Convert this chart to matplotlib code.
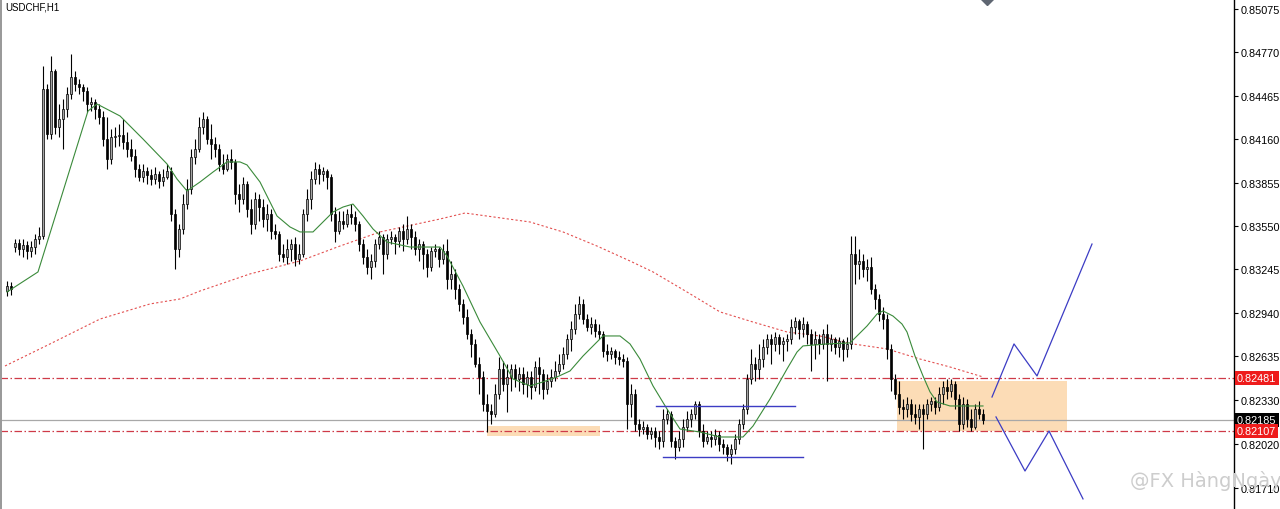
import matplotlib
matplotlib.use("Agg")
import matplotlib.pyplot as plt
import matplotlib.transforms as mtransforms
import numpy as np

# ---------------- data (prices in points, 1 point = 0.00001) ----------------
first_opens = [83093, 83128, 83402]
closes = [83128, 83107, 83430, 83388, 83416, 83374, 83402, 83459, 83480, 84513,
          84196, 84639, 84246, 84302, 84372, 84477, 84597, 84548, 84527, 84499,
          84407, 84421, 84372, 84316, 84161, 84021, 84175, 84182, 84189, 84140,
          84091, 84042, 83950, 83894, 83936, 83908, 83880, 83915, 83866, 83894,
          83936, 83634, 83388, 83529, 83704, 83810, 84035, 84091, 84246, 84302,
          84161, 84126, 84091, 83986, 83950, 84021, 84000, 83775, 83740, 83845,
          83669, 83564, 83740, 83683, 83599, 83634, 83515, 83494, 83353, 83332,
          83388, 83423, 83318, 83353, 83634, 83740, 83880, 83950, 83915, 83936,
          83894, 83634, 83515, 83585, 83564, 83634, 83613, 83564, 83423, 83332,
          83262, 83304, 83423, 83473, 83353, 83459, 83473, 83444, 83515, 83459,
          83529, 83473, 83388, 83423, 83353, 83262, 83374, 83388, 83318, 83374,
          83177, 83213, 83107, 83002, 82910, 82791, 82721, 82580, 82489, 82299,
          82250, 82229, 82369, 82545, 82440, 82489, 82545, 82475, 82510, 82440,
          82489, 82419, 82559, 82510, 82404, 82461, 82489, 82531, 82580, 82650,
          82756, 82826, 82931, 83002, 82896, 82840, 82861, 82812, 82791, 82671,
          82650, 82671, 82629, 82615, 82601, 82299, 82369, 82159, 82123, 82137,
          82088, 82109, 82067, 82039, 82194, 82229, 82039, 81997, 82053, 82137,
          82194, 82229, 82299, 82109, 82039, 82067, 82053, 82081, 82018, 81997,
          81948, 81983, 82053, 82159, 82264, 82475, 82580, 82545, 82615, 82700,
          82756, 82721, 82770, 82721, 82742, 82756, 82840, 82882, 82826, 82861,
          82791, 82721, 82756, 82721, 82791, 82721, 82756, 82700, 82742, 82686,
          82721, 83353, 83283, 83304, 83248, 83262, 83107, 83037, 82931, 82896,
          82686, 82475, 82369, 82278, 82264, 82299, 82229, 82208, 82264, 82229,
          82299, 82320, 82278, 82369, 82419, 82390, 82440, 82334, 82159, 82299,
          82194, 82137, 82264, 82229, 82185]
highs = [83163, 83156, 83459, 83459, 83459, 83444, 83444, 83494, 83543, 84674,
         84548, 84744, 84653, 84407, 84442, 84527, 84759, 84639, 84583, 84548,
         84527, 84456, 84442, 84407, 84358, 84316, 84231, 84246, 84267, 84302,
         84210, 84161, 84091, 83986, 83986, 83964, 83950, 83964, 83936, 83950,
         83986, 83964, 83669, 83564, 83775, 83880, 84091, 84161, 84316, 84351,
         84323, 84267, 84175, 84126, 84056, 84056, 84091, 84021, 83845, 83894,
         83866, 83740, 83789, 83775, 83740, 83704, 83669, 83564, 83515, 83423,
         83459, 83459, 83473, 83423, 83669, 83810, 83936, 84000, 83986, 83964,
         83950, 83915, 83683, 83655, 83655, 83669, 83704, 83655, 83585, 83459,
         83388, 83353, 83459, 83515, 83494, 83494, 83515, 83494, 83543, 83564,
         83620, 83564, 83515, 83459, 83444, 83388, 83402, 83423, 83402, 83423,
         83459, 83304, 83248, 83142, 83037, 82967, 82826, 82756, 82629, 82531,
         82369, 82299, 82440, 82629, 82601, 82580, 82580, 82580, 82559, 82559,
         82531, 82531, 82601, 82629, 82545, 82510, 82545, 82601, 82650, 82700,
         82791, 82882, 83002, 83058, 83037, 82931, 82910, 82896, 82861, 82812,
         82721, 82700, 82686, 82671, 82650, 82629, 82440, 82404, 82194, 82180,
         82159, 82137, 82137, 82109, 82264, 82264, 82250, 82067, 82109, 82194,
         82250, 82264, 82320, 82320, 82159, 82109, 82109, 82123, 82109, 82053,
         82018, 82018, 82088, 82194, 82299, 82510, 82686, 82629, 82721, 82756,
         82791, 82791, 82805, 82791, 82770, 82791, 82896, 82910, 82896, 82910,
         82882, 82826, 82812, 82791, 82826, 82861, 82791, 82770, 82770, 82756,
         82770, 83480, 83480, 83388, 83353, 83318, 83332, 83142, 83072, 82981,
         82931, 82721, 82510, 82461, 82334, 82348, 82334, 82299, 82299, 82299,
         82334, 82348, 82348, 82419, 82461, 82475, 82475, 82461, 82369, 82348,
         82334, 82264, 82299, 82320, 82264]
lows = [83058, 83065, 83367, 83346, 83332, 83318, 83332, 83353, 83423, 83459,
        84161, 84161, 84196, 84175, 84091, 84316, 84442, 84499, 84477, 84428,
        84351, 84358, 84302, 84267, 84112, 83950, 83986, 84105, 84112, 84091,
        84035, 84007, 83894, 83866, 83859, 83845, 83838, 83845, 83817, 83831,
        83880, 83585, 83248, 83332, 83494, 83669, 83775, 83986, 84070, 84196,
        84126, 84021, 84035, 83936, 83915, 83936, 83950, 83704, 83648, 83704,
        83613, 83494, 83529, 83585, 83543, 83515, 83459, 83459, 83304, 83297,
        83283, 83304, 83269, 83283, 83332, 83585, 83669, 83845, 83845, 83866,
        83810, 83585, 83437, 83494, 83529, 83543, 83564, 83515, 83374, 83283,
        83213, 83177, 83262, 83388, 83213, 83318, 83423, 83353, 83402, 83374,
        83423, 83388, 83346, 83304, 83248, 83191, 83234, 83332, 83262, 83283,
        83107, 83107, 83037, 82953, 82861, 82756, 82629, 82559, 82369, 82250,
        82102, 82159, 82208, 82334, 82390, 82243, 82390, 82419, 82390, 82369,
        82348, 82334, 82390, 82369, 82334, 82369, 82419, 82461, 82510, 82545,
        82615, 82671, 82791, 82896, 82861, 82812, 82791, 82770, 82756, 82629,
        82601, 82615, 82580, 82573, 82559, 82123, 82208, 82109, 82074, 82088,
        82053, 82053, 81997, 81983, 81997, 82159, 81997, 81913, 81969, 81997,
        82109, 82137, 82194, 82067, 81997, 82018, 81997, 82011, 81969, 81948,
        81899, 81877, 81948, 82018, 82123, 82229, 82440, 82461, 82475, 82559,
        82650, 82580, 82671, 82650, 82601, 82671, 82721, 82791, 82756, 82770,
        82721, 82531, 82615, 82650, 82686, 82461, 82671, 82650, 82629, 82601,
        82629, 82686, 83142, 83177, 83191, 83163, 83072, 82967, 82882, 82826,
        82615, 82390, 82334, 82229, 82194, 82208, 82180, 82159, 82123, 81983,
        82194, 82250, 82229, 82250, 82299, 82334, 82348, 82264, 82109, 82123,
        82137, 82109, 82123, 82194, 82159]

# indicator lines: (bar index, value in points)
fast_ma_idx = [0, 7.75, 20.25, 22.5, 28.25, 34, 40, 42.5, 45, 48.25, 51.5, 55,
               58.25, 60, 63.25, 67.5, 70.75, 73.25, 76.5, 79, 81.5, 84, 86.5, 89,
               91.5, 95, 100.75, 108.25, 110, 114, 118.25, 123.25, 126.5, 130.75,
               134, 137.5, 140.75, 144, 147.5, 149, 153.25, 155.75, 158.25, 161.5,
               165, 168.25, 173.25, 178.25, 184, 186.5, 190.75, 195, 197.5, 199,
               205, 210.75, 215, 217.5, 219, 221.5, 223.75, 225, 227, 229, 230.75,
               232.5, 235.75, 244]
fast_ma_val = [83086, 83227, 84358, 84407, 84323, 84161, 83986, 83880, 83796, 83859,
               83929, 84000, 84000, 83979, 83859, 83620, 83543, 83508, 83508, 83578,
               83648, 83683, 83704, 83620, 83529, 83437, 83402, 83402, 83339, 83128,
               82875, 82636, 82475, 82426, 82454, 82489, 82531, 82636, 82735, 82777,
               82777, 82721, 82615, 82426, 82264, 82123, 82102, 82067, 82067, 82144,
               82334, 82545, 82664, 82707, 82721, 82728, 82847, 82931, 82953, 82917,
               82861, 82805, 82636, 82496, 82384, 82313, 82285, 82285]
slow_ma_idx = [-0.5, 10.75, 23.25, 35.75, 43.25, 48.25, 60.75, 73.25, 83.25, 93.25,
               108.25, 114.5, 130.75, 139, 147.5, 155.75, 161.5, 170, 178.25, 186.5,
               195, 203.25, 211.5, 220, 228.25, 235.75, 244]
slow_ma_val = [82566, 82721, 82896, 83002, 83037, 83093, 83213, 83304, 83409, 83508,
               83599, 83641, 83578, 83508, 83409, 83304, 83227, 83086, 82946, 82875,
               82805, 82777, 82721, 82686, 82615, 82559, 82489]

level_upper = 0.82481
level_lower = 0.82107
last_price = 0.82185
y_ticks = [0.85075, 0.84770, 0.84465, 0.84160, 0.83855, 0.83550, 0.83245,
           0.82940, 0.82635, 0.82330, 0.82020, 0.81710]

zone_small = (120, 148.25, 0.82074, 0.82144)
zone_big = (222.5, 265, 0.82107, 0.82461)
range_top = (162.25, 197, 0.82285)
range_bottom = (164, 199, 0.81927)
zig_up_idx = [246.25, 251.75, 257.5, 271.25]
zig_up_val = [0.82348, 0.82721, 0.82496, 0.83423]
zig_dn_idx = [247.25, 254.5, 260.5, 269]
zig_dn_val = [0.82208, 0.81828, 0.82109, 0.81632]
shift_marker = (245, 0.85160)

# ---------------- conversion ----------------
P = 1e-5
c = np.array(closes) * P
h = np.array(highs) * P
l = np.array(lows) * P
o = np.array(first_opens + closes[2:-1]) * P
n = len(c)
x = np.arange(n)

AX_RIGHT_PX = 1234
fig = plt.figure(figsize=(12.8, 5.1), dpi=100)
fig.patch.set_facecolor("white")
ax = fig.add_axes([0, 0, AX_RIGHT_PX / 1280, 1])
ax.set_xlim(-1.75, (AX_RIGHT_PX - 7) / 4)
ax.set_ylim(0.81561, 0.85145)
ax.set_facecolor("white")

# zones
for (x0, x1, y0, y1) in (zone_small, zone_big):
    ax.fill_between([x0, x1], y0, y1, color="#fcdcb6", lw=0, zorder=1)

# horizontal levels
red = "#cf3a48"
ax.axhline(level_upper, color=red, lw=0.9, ls=(0, (6, 2, 1.2, 2)), zorder=2)
ax.axhline(level_lower, color=red, lw=0.9, ls=(0, (6, 2, 1.2, 2)), zorder=2)
ax.axhline(last_price, color="#a8a8a8", lw=0.9, zorder=2)

# moving averages
ax.plot(slow_ma_idx, np.array(slow_ma_val) * P, color="#e35050", lw=0.8,
        ls=(0, (2, 2)), zorder=3)
ax.plot(fast_ma_idx, np.array(fast_ma_val) * P, color="#3a8a3a", lw=0.8, zorder=5)

# candles
up = c >= o
ax.vlines(x, np.minimum(l, np.minimum(o, c)), np.maximum(h, np.maximum(o, c)),
          color="black", lw=0.8, zorder=4)
body_lo = np.minimum(o, c)
body_h = np.maximum(np.abs(c - o), 0.00002)
ax.bar(x[up], body_h[up], bottom=body_lo[up], width=0.72, color="#a4a4a4",
       edgecolor="black", linewidth=0.5, zorder=4.5)
ax.bar(x[~up], body_h[~up], bottom=body_lo[~up], width=0.72, color="black",
       edgecolor="black", linewidth=0.5, zorder=4.5)

# blue drawings
blue = "#3c3cc4"
ax.plot([range_top[0], range_top[1]], [range_top[2]] * 2, color=blue, lw=1, zorder=6)
ax.plot([range_bottom[0], range_bottom[1]], [range_bottom[2]] * 2, color=blue, lw=1, zorder=6)
ax.plot(zig_up_idx, zig_up_val, color=blue, lw=0.9, zorder=6)
ax.plot(zig_dn_idx, zig_dn_val, color=blue, lw=0.9, zorder=6)

# shift marker at top
ax.plot([shift_marker[0]], [shift_marker[1]], marker="D", ms=8, color="#5f6672",
        zorder=7, clip_on=True)

# axes styling
for s in ("top", "left", "bottom"):
    ax.spines[s].set_visible(False)
ax.spines["right"].set_color("black")
ax.spines["right"].set_linewidth(1)
ax.set_xticks([])
ax.yaxis.tick_right()
ax.set_yticks(y_ticks)
ax.set_yticklabels([f"{v:.5f}" for v in y_ticks], fontfamily="Liberation Sans")
ax.tick_params(axis="y", direction="out", length=3, width=0.8, pad=2,
               labelsize=7.8, colors="black")

# price labels on the axis
trans = mtransforms.blended_transform_factory(ax.transAxes, ax.transData)
for val, bg in ((level_upper, "#ee1c1c"), (last_price, "black"), (level_lower, "#ee1c1c")):
    ax.text(1.0 + 3 / AX_RIGHT_PX, val, f"{val:.5f}", transform=trans, ha="left",
            va="center", color="white", fontsize=7.8, fontfamily="Liberation Sans",
            bbox=dict(boxstyle="square,pad=0.2", fc=bg, ec="none"),
            clip_on=False, zorder=10)

# title and left frame
fig.text(5 / 1280, 1 - 8 / 510, "USDCHF,H1", fontsize=7, fontfamily="Liberation Sans",
         ha="left", va="center", color="black")
fig.add_artist(plt.Rectangle((0, 0), 2 / 1280, 1, transform=fig.transFigure,
                             color="#9a9a9a", lw=0))

# watermark
fig.text(1130 / 1280, 1 - 481 / 510, "@FX HàngNgày", fontsize=14, color="#cdcdcd",
         ha="left", va="center", fontfamily="DejaVu Sans", zorder=0)

fig.savefig("out.png", dpi=100)
